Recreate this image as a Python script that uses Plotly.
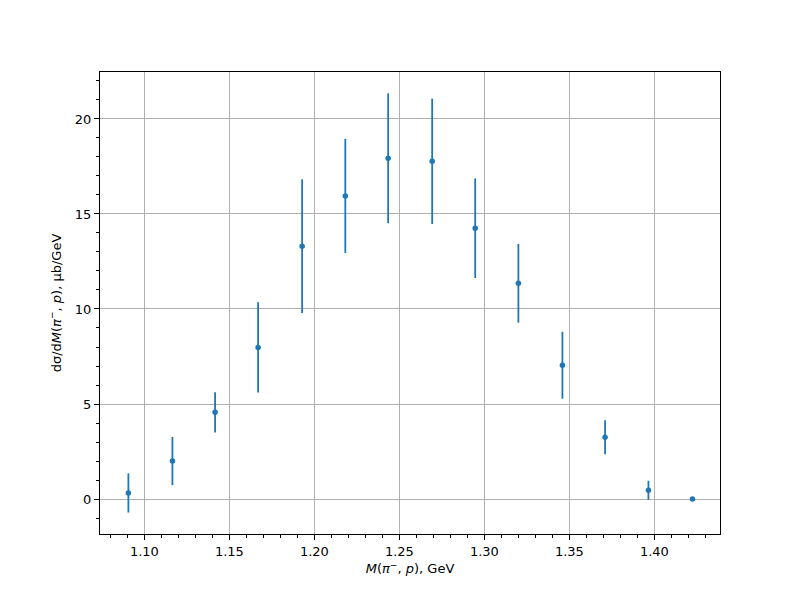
import plotly.graph_objects as go

mass = [1.0906, 1.1165, 1.1416, 1.1669, 1.1928, 1.2182, 1.2434,
        1.2693, 1.2946, 1.3200, 1.3459, 1.3710, 1.3965, 1.4224]
xsec = [0.32, 2.00, 4.56, 7.98, 13.30, 15.95, 17.93,
        17.77, 14.25, 11.35, 7.04, 3.25, 0.46, 0.00]
err = [1.03, 1.27, 1.06, 2.37, 3.52, 3.00, 3.42,
       3.30, 2.62, 2.07, 1.76, 0.89, 0.50, 0.00]

x_ticks = [1.10, 1.15, 1.20, 1.25, 1.30, 1.35, 1.40]
x_ticklabels = ["1.10", "1.15", "1.20", "1.25", "1.30", "1.35", "1.40"]
y_ticks = [0, 5, 10, 15, 20]

color = "#1f77b4"
font = "DejaVu Sans"

fig = go.Figure()
fig.add_trace(go.Scatter(
    x=mass, y=xsec, mode="markers",
    marker=dict(color=color, size=5.5),
    error_y=dict(type="data", array=err, visible=True, color=color,
                 thickness=1.8, width=0),
    showlegend=False,
))

axis_common = dict(
    showline=True, linecolor="black", linewidth=1, mirror=True,
    ticks="outside", ticklen=5, tickwidth=1, tickcolor="black",
    showgrid=True, gridcolor="#b0b0b0", gridwidth=1,
    zeroline=False,
    tickfont=dict(family=font, size=13, color="black"),
)

fig.update_xaxes(
    **axis_common,
    range=[1.0739, 1.4386],
    tickvals=x_ticks, ticktext=x_ticklabels,
    minor=dict(ticks="outside", ticklen=3, tickcolor="black", dtick=0.01,
               tick0=1.0, showgrid=False),
    title=dict(text="<i>M</i>(<i>π</i><sup>−</sup>, <i>p</i>), GeV",
               font=dict(family=font, size=13, color="black"), standoff=6),
)
fig.update_yaxes(
    **axis_common,
    range=[-1.84, 22.47],
    tickvals=y_ticks,
    minor=dict(ticks="outside", ticklen=3, tickcolor="black", dtick=1,
               tick0=0, showgrid=False),
    title=dict(text="dσ/d<i>M</i>(<i>π</i><sup>−</sup>, <i>p</i>), μb/GeV",
               font=dict(family=font, size=13, color="black"), standoff=10),
)

fig.update_layout(
    width=800, height=600,
    margin=dict(l=92, r=88, t=64, b=74),
    plot_bgcolor="white", paper_bgcolor="white",
    font=dict(family=font, size=13, color="black"),
)

fig.write_html("out.html")
